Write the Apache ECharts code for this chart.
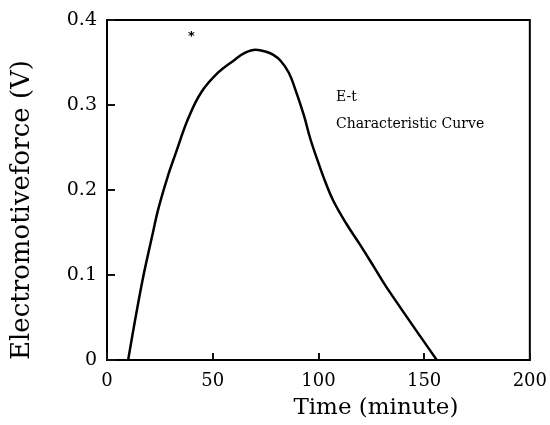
<!DOCTYPE html>
<html>
<head>
<meta charset="utf-8">
<title>E-t Characteristic Curve</title>
<script src="https://cdn.jsdelivr.net/npm/echarts@6/dist/echarts.min.js"></script>
<style>
html,body{margin:0;padding:0;background:#fff;}
#e-t-chart{width:550px;height:425px;}
</style>
</head>
<body>
<div id="e-t-chart"></div>
<script>
// values
let timeData = [10, 16.5, 21.2, 24.4, 29, 32.2, 38.4, 44.6, 52.5, 60.3, 65, 70.3, 74.9, 78.7, 82.1, 86, 89.1, 93.1, 96.2, 99.3, 103.2, 107.1, 113.3, 119.6, 125.9, 132.1, 156];
let emfData  = [0, 0.09, 0.144, 0.179, 0.218, 0.241, 0.284, 0.315, 0.338, 0.353, 0.361, 0.365, 0.363, 0.359, 0.352, 0.338, 0.318, 0.288, 0.26, 0.237, 0.21, 0.187, 0.16, 0.136, 0.111, 0.086, 0];
let xTicks = [0, 50, 100, 150, 200];
let yTicks = [0, 0.1, 0.2, 0.3, 0.4];

let serif = "DejaVu Serif";

let chart = "";
function optionChart(){
    let points = [];
    for(let i=0;i<timeData.length;i++){
        points.push([timeData[i], emfData[i]]);
    }
    let option = {
        animation:false,
        grid: {
            left: 107,
            right: 15,
            top: 20,
            bottom: 61,
            show: true,
            backgroundColor: 'transparent',
            borderColor: '#000',
            borderWidth: 2
        },
        xAxis: {
            type: 'value',
            z: 10,
            min: xTicks[0],
            max: xTicks[xTicks.length-1],
            interval: 50,
            name: 'Time (minute)',
            nameLocation: 'middle',
            nameGap: 37,
            nameTextStyle: {
                color: '#000',
                fontFamily: serif,
                fontSize: 23,
                padding: [0,0,0,115]
            },
            axisLine: {show:true, lineStyle: {color:'#000', width:2}},
            axisTick: {show:true, inside:true, length:7, lineStyle:{color:'#111', width:2}},
            axisLabel: {
                color: '#000',
                fontFamily: serif,
                fontSize: 18,
                margin: 12
            },
            splitLine: {show:false}
        },
        yAxis: {
            type: 'value',
            z: 10,
            min: yTicks[0],
            max: yTicks[yTicks.length-1],
            interval: 0.1,
            name: 'Electromotiveforce (V)',
            nameLocation: 'middle',
            nameGap: 72,
            nameTextStyle: {
                color: '#000',
                fontFamily: serif,
                fontSize: 26,
                padding: [0,40,0,0]
            },
            axisLine: {show:true, lineStyle: {color:'#000', width:2}},
            axisTick: {show:true, inside:true, length:8, lineStyle:{color:'#111', width:2}},
            axisLabel: {
                color: '#000',
                fontFamily: serif,
                fontSize: 19,
                margin: 10,
                formatter: function(v){ return v===0 ? '0' : v.toFixed(1); }
            },
            splitLine: {show:false}
        },
        graphic: [
            {type:'text', left:188, top:30, style:{text:'*', fill:'#000', font:'bold 13px "DejaVu Sans"'}},
            {type:'text', left:336, top:90, style:{text:'E-t', fill:'#000', font:'14px "DejaVu Serif"'}},
            {type:'text', left:336, top:117, style:{text:'Characteristic Curve', fill:'#000', font:'14px "DejaVu Serif"'}}
        ],
        series: [{
            type: 'line',
            data: points,
            smooth: 0.4,
            symbol: 'none',
            lineStyle: {color:'#000', width:2.5}
        }]
    };
    chart = echarts.init(document.getElementById("e-t-chart"));
    chart.setOption(option);
}
optionChart();
</script>
</body>
</html>
